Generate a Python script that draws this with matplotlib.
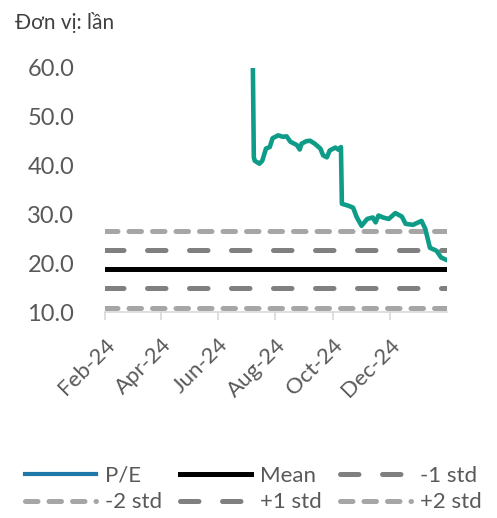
import numpy as np
import pandas as pd
from matplotlib import pyplot as plt
from matplotlib import dates as mdates
from matplotlib.lines import Line2D

plt.rcParams['font.family'] = ['Lato', 'DejaVu Sans']

# P/E series
peDates = ['2024-07-08', '2024-07-09', '2024-07-10', '2024-07-15', '2024-07-18', '2024-07-22',
           '2024-07-26', '2024-07-29', '2024-08-04', '2024-08-09', '2024-08-13', '2024-08-17',
           '2024-08-24', '2024-08-27', '2024-08-29', '2024-09-03', '2024-09-07', '2024-09-12',
           '2024-09-18', '2024-09-21', '2024-09-25', '2024-09-28', '2024-10-04', '2024-10-07',
           '2024-10-10', '2024-10-11', '2024-10-18', '2024-10-23', '2024-10-27', '2024-11-01',
           '2024-11-07', '2024-11-13', '2024-11-16', '2024-11-19', '2024-11-24', '2024-11-30',
           '2024-12-07', '2024-12-14', '2024-12-18', '2024-12-26', '2025-01-04', '2025-01-08',
           '2025-01-13', '2025-01-20', '2025-01-25', '2025-01-31']
peVals = [60.0, 41.7, 41.0, 40.4, 41.0, 43.5,
          43.8, 45.6, 46.2, 45.9, 46.0, 44.9,
          44.2, 43.3, 44.5, 45.0, 45.1, 44.5,
          43.5, 42.1, 41.7, 43.1, 43.7, 43.3,
          43.8, 32.2, 31.8, 31.4, 29.4, 27.7,
          29.1, 29.4, 28.4, 29.8, 29.4, 29.1,
          30.3, 29.6, 28.1, 27.9, 28.7, 27.1,
          23.2, 22.6, 21.2, 20.7]

meanVal = 18.8
stdLevels = {'-1 std': 15.0, '+1 std': 22.7, '-2 std': 10.8, '+2 std': 26.7}

xStart, xEnd = '2024-02-01', '2025-01-31'
yTicks = [10, 20, 30, 40, 50, 60]

txtCol = '#595959'
peCol = '#0E9C88'
std1Col = '#808080'
std2Col = '#A6A6A6'


def main():
  fig = plt.figure(figsize=(4.97, 5.18), dpi=100)
  ax = fig.add_axes([0.211, 0.397, 0.688, 0.472])

  d = pd.to_datetime(peDates)
  x0, x1 = pd.to_datetime(xStart), pd.to_datetime(xEnd)
  ax.plot(d, peVals, color=peCol, lw=3.3, solid_joinstyle='round', zorder=5)

  lw = 3.6
  ax.axhline(meanVal, color='black', lw=lw, solid_capstyle='round', zorder=4)
  for key in ['-1 std', '+1 std']:
    ax.axhline(stdLevels[key], color=std1Col, lw=lw, dashes=(3.7, 4.7),
               dash_capstyle='round', zorder=3)
  for key in ['-2 std', '+2 std']:
    ax.axhline(stdLevels[key], color=std2Col, lw=lw, dashes=(2.5, 2.2),
               dash_capstyle='round', zorder=3)

  ax.set_xlim(x0, x1)
  ax.set_ylim(10, 60)
  ax.set_yticks(yTicks)
  ax.set_yticklabels(['%.1f' % v for v in yTicks])
  ax.xaxis.set_major_locator(mdates.MonthLocator(bymonth=[2, 4, 6, 8, 10, 12]))
  ax.xaxis.set_major_formatter(mdates.DateFormatter('%b-%y'))

  for s in ['top', 'right', 'left']:
    ax.spines[s].set_visible(False)
  ax.spines['bottom'].set_color('#D9D9D9')
  ax.spines['bottom'].set_linewidth(1.2)
  ax.tick_params(axis='y', length=0, pad=22, labelsize=17, labelcolor=txtCol)
  ax.tick_params(axis='x', length=6, width=1.2, color='#D9D9D9', pad=10,
                 labelsize=16, labelcolor=txtCol)
  for lab in ax.get_xticklabels():
    lab.set_rotation(45)
    lab.set_ha('right')
    lab.set_va('top')
    lab.set_rotation_mode('anchor')

  fig.text(0.03, 0.957, 'Đơn vị: lần', fontsize=15, color='#404040', ha='left', va='center')

  hPE = Line2D([], [], color='#1F78A8', lw=3.0)
  hMean = Line2D([], [], color='black', lw=lw)
  h1m = Line2D([], [], color=std1Col, lw=lw, dashes=(3.7, 4.7), dash_capstyle='round')
  h1p = Line2D([], [], color=std1Col, lw=lw, dashes=(3.7, 4.7), dash_capstyle='round')
  h2m = Line2D([], [], color=std2Col, lw=lw, dashes=(2.5, 2.2), dash_capstyle='round')
  h2p = Line2D([], [], color=std2Col, lw=lw, dashes=(2.5, 2.2), dash_capstyle='round')
  # column-major fill: reorder so rows read P/E, Mean, -1 std / -2 std, +1 std, +2 std
  handles = [hPE, h2m, hMean, h1p, h1m, h2p]
  labels = ['P/E', '-2 std', 'Mean', '+1 std', '-1 std', '+2 std']
  leg = fig.legend(handles, labels, ncol=3, loc='center', bbox_to_anchor=(0.51, 0.056),
                   frameon=False, fontsize=16, handlelength=3.2, handletextpad=0.4,
                   columnspacing=0.8, labelspacing=0.3)
  for t in leg.get_texts():
    t.set_color(txtCol)

  fig.savefig('out.png', dpi=100)


if __name__ == '__main__':
  main()
